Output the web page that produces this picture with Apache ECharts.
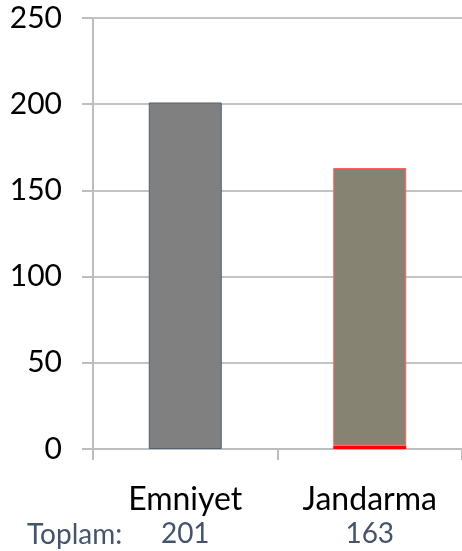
<!DOCTYPE html>
<html>
<head>
<meta charset="utf-8">
<script src="https://cdn.jsdelivr.net/npm/echarts@6/dist/echarts.min.js"></script>
<style>
html,body{margin:0;padding:0;background:#fff;}
#c{width:462px;height:551px;}
</style>
</head>
<body>
<div id="c"></div>
<script>
var categories = ['Emniyet', 'Jandarma'];
var redValues = [0, 2];
var mainValues = [201, 161];
var totals = [201, 163];
var yTicks = [0, 50, 100, 150, 200, 250];
var totalLabel = 'Toplam:';

var FONT = 'Lato, "Open Sans", sans-serif';
var chart = echarts.init(document.getElementById('c'));
chart.setOption({
  animation: false,
  backgroundColor: '#ffffff',
  grid: {left: 93, right: -3, top: 18, bottom: 102},
  xAxis: {
    type: 'category',
    data: categories,
    axisLine: {lineStyle: {color: '#bdbdbd', width: 2}},
    axisTick: {show: true, length: 11, lineStyle: {color: '#bdbdbd', width: 2}},
    axisLabel: {
      margin: 34,
      formatter: function (v, i) { return '{c|' + v + '}\n{t|' + totals[i] + '}'; },
      rich: {
        c: {fontFamily: FONT, fontSize: 32, color: '#000000', lineHeight: 34},
        t: {fontFamily: FONT, fontSize: 28, color: '#44546a', lineHeight: 34}
      }
    }
  },
  yAxis: {
    type: 'value',
    min: yTicks[0],
    max: yTicks[yTicks.length - 1],
    interval: 50,
    axisLine: {show: true, lineStyle: {color: '#bdbdbd', width: 2}},
    axisTick: {show: true, length: 11, lineStyle: {color: '#bdbdbd', width: 2}},
    splitLine: {lineStyle: {color: '#c4c4c4', width: 2}},
    axisLabel: {margin: 31, fontFamily: FONT, fontSize: 30, color: '#000000'}
  },
  graphic: [{
    type: 'text', left: 27, top: 521,
    style: {text: totalLabel, font: '28px ' + FONT, fill: '#44546a'}
  }],
  series: [
    {
      type: 'bar', stack: 's', barWidth: 73,
      data: redValues,
      itemStyle: {color: '#ff0000'}
    },
    {
      type: 'bar', stack: 's', barWidth: 73,
      data: mainValues.map(function (v, i) {
        return i === 0
          ? {value: v, itemStyle: {color: '#808080', borderColor: '#556070', borderWidth: 1}}
          : {value: v, itemStyle: {color: '#878373', borderColor: '#ff6060', borderWidth: 1}};
      })
    }
  ]
});
</script>
</body>
</html>
